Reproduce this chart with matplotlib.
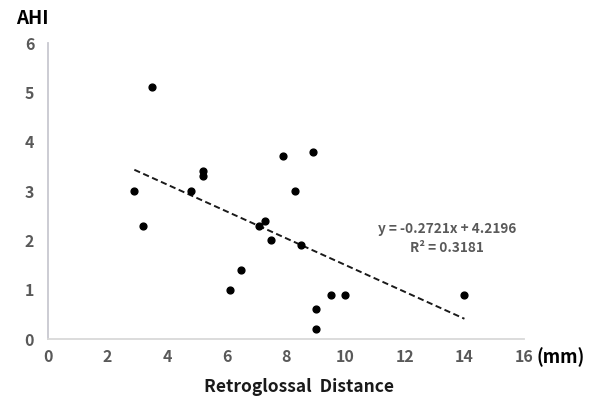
import numpy as np
import matplotlib.pyplot as plt

plt.rcParams['font.family'] = ['Noto Sans CJK KR', 'DejaVu Sans']

# Données
distance = [2.9, 3.2, 3.5, 4.8, 5.2, 5.2, 6.1, 6.5, 7.1, 7.3,
            7.5, 7.9, 8.3, 8.5, 8.9, 9.0, 9.0, 9.5, 10.0, 14.0]
ahi = [3.0, 2.3, 5.1, 3.0, 3.4, 3.3, 1.0, 1.4, 2.3, 2.4,
       2.0, 3.7, 3.0, 1.9, 3.8, 0.6, 0.2, 0.9, 0.9, 0.9]
slope = -0.2721
intercept = 4.2196
r2 = 0.3181
x_ticks = [0, 2, 4, 6, 8, 10, 12, 14, 16]
y_ticks = [0, 1, 2, 3, 4, 5, 6]

fig = plt.figure(figsize=(5.94, 4.0), dpi=100)
ax = fig.add_axes([0.081, 0.1525, 0.801, 0.74])

ax.scatter(distance, ahi, s=24, color='black', zorder=3)

# Droite de tendance
xl = np.array([min(distance), max(distance)])
ax.plot(xl, slope * xl + intercept, color='#1a1a1a', lw=1.4,
        linestyle=(0, (3.2, 1.8)))

ax.text(13.41, 2.22, f"y = {slope}x + {intercept}", ha='center', va='center',
        fontsize=9.8, fontweight='bold', color='#595959')
ax.text(13.41, 1.84, f"R² = {r2}", ha='center', va='center',
        fontsize=9.8, fontweight='bold', color='#595959')

ax.set_xlim(0, 16)
ax.set_ylim(0, 6)
ax.set_xticks(x_ticks)
ax.set_yticks(y_ticks)
ax.tick_params(length=0, labelsize=11.5, labelcolor='#595959')
ax.tick_params(axis='y', pad=10)
ax.tick_params(axis='x', pad=7)
for lab in ax.get_xticklabels() + ax.get_yticklabels():
    lab.set_fontweight('heavy')

for s in ['top', 'right']:
    ax.spines[s].set_visible(False)
ax.spines['left'].set_color('#c8c8d0')
ax.spines['bottom'].set_color('#d9d9d9')
for s in ['left', 'bottom']:
    ax.spines[s].set_linewidth(1.3)

fig.text(0.054, 0.955, "AHI", fontsize=13.5, fontweight='heavy', ha='center', va='center')
fig.text(0.904, 0.107, "(mm)", fontsize=13, fontweight='heavy', ha='left', va='center')
fig.text(0.503, 0.033, "Retroglossal  Distance", fontsize=12.5, fontweight='heavy',
         ha='center', va='center', color='#1a1a1a')

fig.savefig("out.png", dpi=100)
